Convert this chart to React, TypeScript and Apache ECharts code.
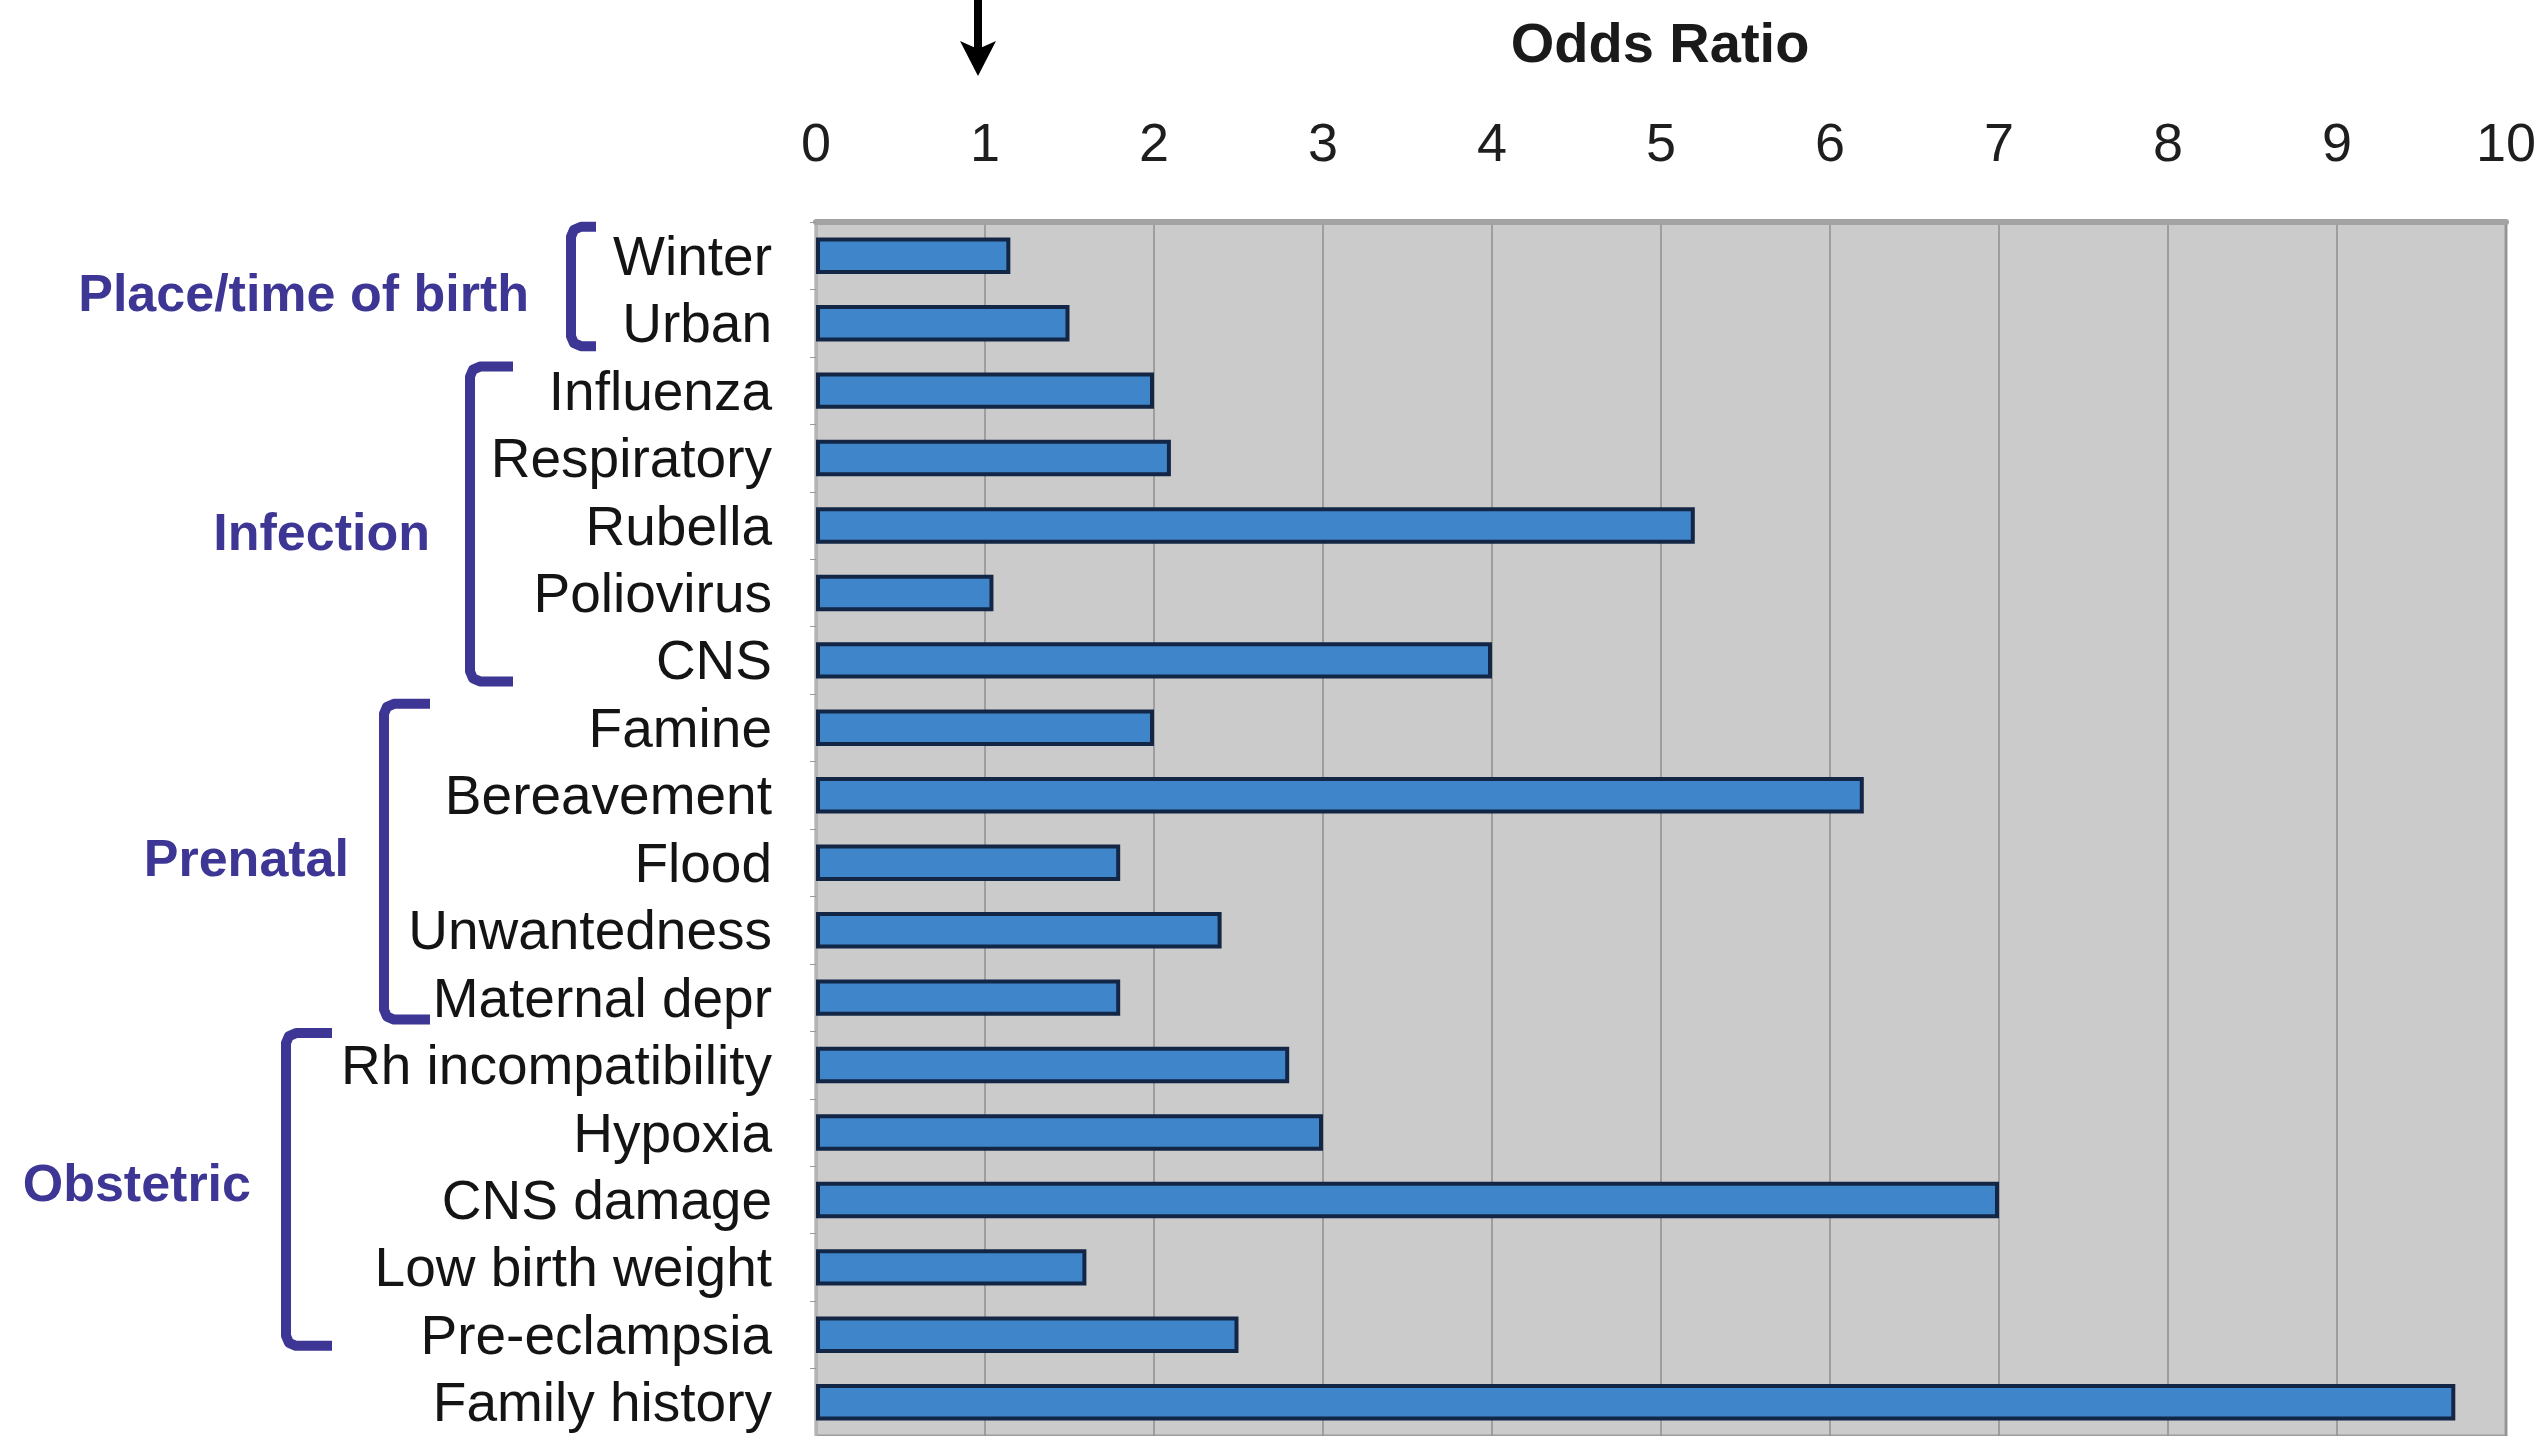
import React, { useEffect, useRef } from "react";
import * as echarts from "echarts";

const categories = [
  "Winter",
  "Urban",
  "Influenza",
  "Respiratory",
  "Rubella",
  "Poliovirus",
  "CNS",
  "Famine",
  "Bereavement",
  "Flood",
  "Unwantedness",
  "Maternal depr",
  "Rh incompatibility",
  "Hypoxia",
  "CNS damage",
  "Low birth weight",
  "Pre-eclampsia",
  "Family history",
];

const oddsRatios = [1.15, 1.5, 2.0, 2.1, 5.2, 1.05, 4.0, 2.0, 6.2, 1.8, 2.4, 1.8, 2.8, 3.0, 7.0, 1.6, 2.5, 9.7];

const xTicks = [0, 1, 2, 3, 4, 5, 6, 7, 8, 9, 10];

const groupNames = ["Place/time of birth", "Infection", "Prenatal", "Obstetric"];
const groupFirst = [0, 2, 7, 12];
const groupLast = [1, 6, 11, 16];

// layout of the brackets (pixels): vertical stroke x, hook end x, label right gap, top/bottom offsets
const bracketX = [571, 470, 384, 286];
const bracketHookX = [596, 513, 430, 332];
const labelGap = [42, 40, 35, 35];
const labelDy = [7, 8, -4, -6];
const topOffset = [-29, -24, -24, -32];
const bottomOffset = [23, 21, 22, 11];

const PURPLE = "#3d3694";
const FONT = "'Liberation Sans', Arial, Helvetica, sans-serif";

export default function App() {
  const ref = useRef<HTMLDivElement>(null);

  useEffect(() => {
    if (!ref.current) return;
    const chart = echarts.init(ref.current, undefined, { renderer: "svg" });
    chart.setOption({
      animation: false,
      backgroundColor: "#ffffff",
      grid: {
        left: 816,
        right: 38,
        top: 222,
        bottom: 0,
        show: true,
        backgroundColor: "#cbcbcb",
        borderColor: "#9e9e9e",
        borderWidth: 3,
      },
      xAxis: {
        type: "value",
        position: "top",
        min: xTicks[0],
        max: xTicks[xTicks.length - 1],
        interval: 1,
        axisLine: { show: true, lineStyle: { color: "#a3a3a3", width: 6 } },
        axisTick: { show: false },
        splitLine: { show: true, lineStyle: { color: "#8f8f8f", width: 1.5 } },
        axisLabel: {
          fontSize: 54,
          fontFamily: FONT,
          color: "#1e1e1e",
          margin: 53,
        },
      },
      yAxis: {
        type: "category",
        inverse: true,
        data: categories,
        axisLine: { show: true, lineStyle: { color: "#b4b4b4", width: 2 } },
        axisTick: { show: true, length: 6, lineStyle: { color: "#9a9a9a" } },
        axisLabel: {
          interval: 0,
          fontSize: 55,
          fontFamily: FONT,
          color: "#141414",
          margin: 44,
          padding: [8, 0, 0, 0],
        },
      },
      series: [
        {
          type: "bar",
          data: oddsRatios,
          barCategoryGap: "46%",
          itemStyle: {
            color: "#3f85c9",
            borderColor: "#132646",
            borderWidth: 4,
          },
        },
      ],
    });

    const yPix = (i: number) => chart.convertToPixel({ yAxisIndex: 0 }, categories[i]) as number;
    const ax = (chart.convertToPixel({ xAxisIndex: 0 }, 1) as number) - 7;

    const graphics: any[] = [
      {
        type: "line",
        shape: { x1: ax, y1: 0, x2: ax, y2: 50 },
        style: { stroke: "#000", lineWidth: 8 },
      },
      {
        type: "polygon",
        shape: {
          points: [
            [ax - 18, 41],
            [ax, 49],
            [ax + 18, 41],
            [ax, 76],
          ],
        },
        style: { fill: "#000" },
      },
      {
        type: "text",
        x: 1660,
        y: 42,
        style: {
          text: "Odds Ratio",
          font: `bold 56px ${FONT}`,
          fill: "#1a1a1a",
          textAlign: "center",
          textVerticalAlign: "middle",
        },
      },
    ];

    groupNames.forEach((name, g) => {
      const top = yPix(groupFirst[g]) + topOffset[g];
      const bottom = yPix(groupLast[g]) + bottomOffset[g];
      const x = bracketX[g];
      const xe = bracketHookX[g];
      graphics.push({
        type: "polyline",
        shape: {
          points: [
            [xe, top],
            [x + 10, top],
            [x + 3, top + 3],
            [x, top + 10],
            [x, bottom - 10],
            [x + 3, bottom - 3],
            [x + 10, bottom],
            [xe, bottom],
          ],
        },
        style: { stroke: PURPLE, lineWidth: 10, lineJoin: "round", fill: null },
      });
      graphics.push({
        type: "text",
        x: x - labelGap[g],
        y: (top + bottom) / 2 + labelDy[g],
        style: {
          text: name,
          font: `bold 52px ${FONT}`,
          fill: PURPLE,
          textAlign: "right",
          textVerticalAlign: "middle",
        },
      });
    });

    chart.setOption({ graphic: graphics });

    return () => {
      chart.dispose();
    };
  }, []);

  return (
    <div
      ref={ref}
      style={{ position: "fixed", left: 0, top: 0, width: 2544, height: 1436, background: "#fff" }}
    />
  );
}
